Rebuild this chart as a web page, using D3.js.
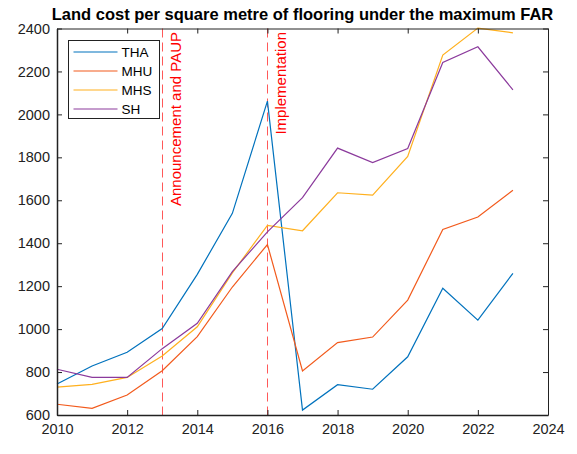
<!DOCTYPE html>
<html>
<head>
<meta charset="utf-8">
<script src="https://cdn.jsdelivr.net/npm/d3@7"></script>
<style>
  body { margin: 0; background: #fff; }
  text { font-family: "Liberation Sans", Arial, sans-serif; }
</style>
</head>
<body>
<div id="chart"></div>
<script>
// Data
const years = [2010, 2011, 2012, 2013, 2014, 2015, 2016, 2017, 2018, 2019, 2020, 2021, 2022, 2023];
const tha = [744, 828, 892, 1003, 1255, 1539, 2062, 623, 741, 720, 871, 1190, 1042, 1260];
const mhu = [650, 631, 693, 806, 965, 1196, 1394, 805, 937, 963, 1135, 1464, 1522, 1647];
const mhs = [730, 743, 775, 875, 1011, 1262, 1483, 1458, 1635, 1624, 1804, 2276, 2402, 2380];
const sh = [813, 775, 775, 909, 1027, 1268, 1453, 1612, 1843, 1776, 1841, 2242, 2315, 2114];
const seriesNames = ["THA", "MHU", "MHS", "SH"];
const seriesColors = ["#0072BD", "#F25A1C", "#FFB01E", "#8B3A9C"];
const events = [{ year: 2013, label: "Announcement and PAUP" }, { year: 2016, label: "Implementation" }];
const xTicks = d3.range(2010, 2025, 2);
const yTicks = d3.range(600, 2401, 200);

const width = 577, height = 454;
const margin = { top: 28.5, right: 29, bottom: 39, left: 57 };

const svg = d3.select("#chart").append("svg")
    .attr("width", width)
    .attr("height", height);

const x = d3.scaleLinear().domain([2010, 2024]).range([margin.left, width - margin.right]);
const y = d3.scaleLinear().domain([600, 2400]).range([height - margin.bottom, margin.top]);

// title
svg.append("text")
    .attr("x", (x(2010) + x(2024)) / 2)
    .attr("y", 20)
    .attr("text-anchor", "middle")
    .style("font-size", "16.5px")
    .style("font-weight", "bold")
    .text("Land cost per square metre of flooring under the maximum FAR");

// event lines
events.forEach(e => {
    const ex = Math.round(x(e.year)) + 0.5;
    svg.append("line")
        .attr("x1", ex).attr("x2", ex)
        .attr("y1", y(2400)).attr("y2", y(600))
        .attr("stroke", "#ff3030")
        .attr("stroke-opacity", 0.8)
        .attr("stroke-width", 1)
        .attr("stroke-dasharray", "9,5");
    svg.append("text")
        .attr("transform", `translate(${x(e.year) + 18.7},${y(2400) + 3.5}) rotate(-90)`)
        .attr("text-anchor", "end")
        .style("font-size", "15px")
        .style("fill", "red")
        .text(e.label);
});

// series lines
const allSeries = [tha, mhu, mhs, sh];
const line = d3.line()
    .x((d, i) => x(years[i]))
    .y(d => y(d));

allSeries.forEach((vals, k) => {
    svg.append("path")
        .datum(vals)
        .attr("d", line)
        .attr("fill", "none")
        .attr("stroke", seriesColors[k])
        .attr("stroke-width", 1.2);
});

// axes
const axisColor = "#222";
const xAxis = svg.append("g")
    .attr("transform", `translate(0,${y(600)})`)
    .call(d3.axisBottom(x).tickValues(xTicks).tickFormat(d3.format("d")).tickSizeInner(-5).tickSizeOuter(0).tickPadding(9));
const yAxis = svg.append("g")
    .attr("transform", `translate(${x(2010)},0)`)
    .call(d3.axisLeft(y).tickValues(yTicks).tickFormat(d3.format("d")).tickSizeInner(-5).tickSizeOuter(0).tickPadding(7));
const xTop = svg.append("g")
    .attr("transform", `translate(0,${y(2400)})`)
    .call(d3.axisTop(x).tickValues(xTicks).tickFormat("").tickSizeInner(-5).tickSizeOuter(0));
const yRight = svg.append("g")
    .attr("transform", `translate(${x(2024)},0)`)
    .call(d3.axisRight(y).tickValues(yTicks).tickFormat("").tickSizeInner(-5).tickSizeOuter(0));

[xAxis, yAxis, xTop, yRight].forEach(g => {
    g.selectAll("path, line").attr("stroke", axisColor).attr("stroke-width", 1);
    g.selectAll("text").style("font-size", "14.5px").style("fill", "#222")
        .style("font-family", "'Liberation Sans', Arial, sans-serif");
});
xAxis.select(".domain").attr("stroke-width", 1.5);
yAxis.select(".domain").attr("stroke-width", 1.5);

// legend
const legend = svg.append("g").attr("transform", "translate(68.5,40.5)");
legend.append("rect")
    .attr("width", 91)
    .attr("height", 78)
    .attr("fill", "white")
    .attr("stroke", "#222")
    .attr("stroke-width", 1);
seriesNames.forEach((name, k) => {
    const ly = 11.5 + k * 19;
    legend.append("line")
        .attr("x1", 5).attr("x2", 49)
        .attr("y1", ly).attr("y2", ly)
        .attr("stroke", seriesColors[k])
        .attr("stroke-width", 1.2);
    legend.append("text")
        .attr("x", 53)
        .attr("y", ly + 5)
        .style("font-size", "13.5px")
        .text(name);
});
</script>
</body>
</html>
